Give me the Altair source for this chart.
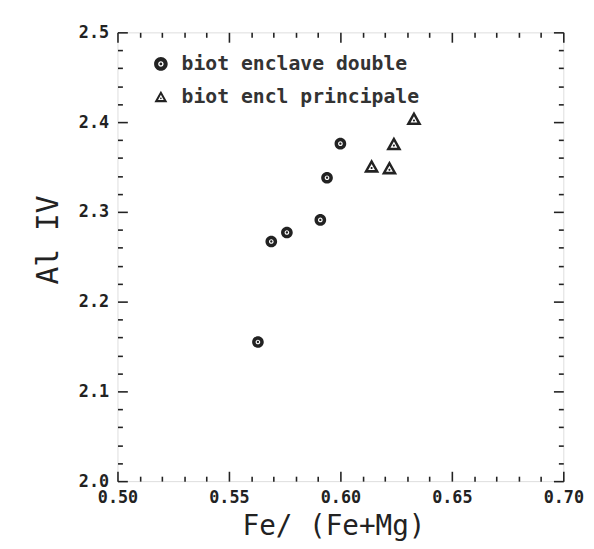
import altair as alt
import pandas as pd

# ---- data ----
series_names = ["biot enclave double", "biot encl principale"]
fe_double = [0.563, 0.569, 0.576, 0.591, 0.594, 0.600]
al_double = [2.155, 2.267, 2.277, 2.291, 2.338, 2.376]
fe_princ = [0.614, 0.622, 0.624, 0.633]
al_princ = [2.350, 2.348, 2.375, 2.403]

x_major = [0.50, 0.55, 0.60, 0.65, 0.70]
x_minor = [0.51, 0.52, 0.53, 0.54, 0.56, 0.57, 0.58, 0.59,
           0.61, 0.62, 0.63, 0.64, 0.66, 0.67, 0.68, 0.69]
y_major = [2.0, 2.1, 2.2, 2.3, 2.4, 2.5]
y_minor = [2.02, 2.04, 2.06, 2.08, 2.12, 2.14, 2.16, 2.18, 2.22, 2.24, 2.26, 2.28,
           2.32, 2.34, 2.36, 2.38, 2.42, 2.44, 2.46, 2.48]

INK = "#222222"

CIRCLE = ("M1,0A1,1,0,1,1,-1,0A1,1,0,1,1,1,0Z"
          "M0.4,0A0.4,0.4,0,1,0,-0.4,0A0.4,0.4,0,1,0,0.4,0Z"
          "M0.2,0A0.2,0.2,0,1,1,-0.2,0A0.2,0.2,0,1,1,0.2,0Z")
TRIANGLE = ("M0,-1L0.95,0.7L-0.95,0.7Z"
            "M0,-0.38L-0.42,0.38L0.42,0.38Z"
            "M0.13,0.13A0.13,0.13,0,1,1,-0.13,0.13A0.13,0.13,0,1,1,0.13,0.13Z")

df = pd.DataFrame({
    "fe": fe_double + fe_princ,
    "al": al_double + al_princ,
    "serie": [series_names[0]] * len(fe_double) + [series_names[1]] * len(fe_princ),
    "msize": [140] * len(fe_double) + [270] * len(fe_princ),
})

xs = alt.Scale(domain=[0.5, 0.7], nice=False, zero=False)
ys = alt.Scale(domain=[2.0, 2.5], nice=False, zero=False)


def tick_axis(orient, values, size):
    return alt.Axis(orient=orient, values=values, tickSize=size, offset=-size,
                    labels=False, domain=False, grid=False, title=None,
                    tickColor=INK, tickWidth=1.6)


base = alt.Chart(df)

points = base.mark_point(filled=True, opacity=1, strokeWidth=0).encode(
    x=alt.X("fe:Q", scale=xs, axis=alt.Axis(
        orient="bottom", values=x_major, format=".2f", ticks=False, domain=False,
        grid=False, labelPadding=9, labelFont="DejaVu Sans Mono", labelFontSize=17,
        labelFontWeight="bold", labelColor=INK, labelFlush=False, labelOverlap=False,
        title="Fe/ (Fe+Mg)", titleFont="DejaVu Sans Mono", titleFontSize=28,
        titleFontWeight="normal", titleColor=INK, titleX=219, titleY=54,
        titleBaseline="alphabetic", titleAlign="center")),
    y=alt.Y("al:Q", scale=ys, axis=alt.Axis(
        orient="left", values=y_major, format=".1f", ticks=False, domain=False,
        grid=False, labelPadding=9, labelFont="DejaVu Sans Mono", labelFontSize=17,
        labelFontWeight="bold", labelColor=INK, labelFlush=False, labelOverlap=False,
        title="Al IV", titleFont="DejaVu Sans Mono", titleFontSize=30,
        titleFontWeight="normal", titleColor=INK, titleAngle=270, titleX=-61,
        titleY=210, titleBaseline="alphabetic", titleAlign="center")),
    shape=alt.Shape("serie:N", scale=alt.Scale(domain=series_names, range=[CIRCLE, TRIANGLE]),
                    legend=alt.Legend(title=None, orient="none", legendX=34, legendY=22,
                                      labelFont="DejaVu Sans Mono", labelFontSize=20,
                                      labelFontWeight="bold", labelColor="#333333",
                                      labelLimit=0, symbolSize=190,
                                      symbolFillColor=INK, symbolStrokeWidth=0,
                                      labelOffset=11, rowPadding=14, padding=0)),
    size=alt.Size("msize:Q", scale=None),
    color=alt.value(INK),
)


def tick_layer(xo, xv, xsz, yo, yv, ysz):
    return base.mark_point(opacity=0).encode(
        x=alt.X("fe:Q", scale=xs, axis=tick_axis(xo, xv, xsz)),
        y=alt.Y("al:Q", scale=ys, axis=tick_axis(yo, yv, ysz)),
    )


chart = alt.layer(
    points,
    tick_layer("bottom", x_major, 10, "left", y_major, 10),
    tick_layer("bottom", x_minor, 5, "left", y_minor, 5),
    tick_layer("top", x_major, 10, "right", y_major, 10),
    tick_layer("top", x_minor, 5, "right", y_minor, 5),
).resolve_axis(x="independent", y="independent").properties(
    width=452, height=455,
    autosize=alt.AutoSizeParams(type="none"),
    padding={"left": 111, "top": 21, "right": 23, "bottom": 57},
).configure_view(stroke=INK, strokeWidth=2).configure(background="white")

chart.save("out.html", embed_options={"renderer": "svg", "actions": False})
